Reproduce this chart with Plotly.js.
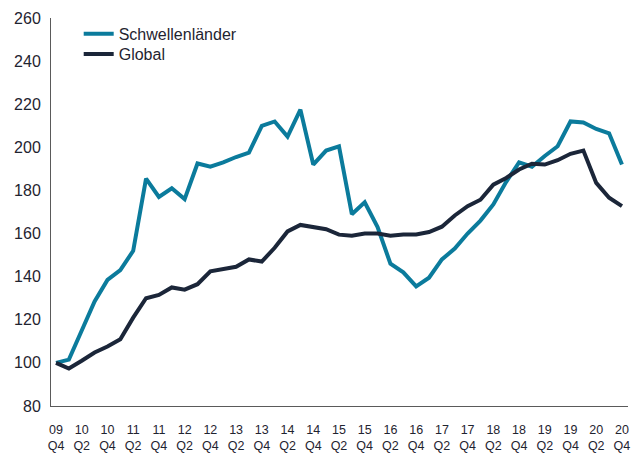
<!DOCTYPE html>
<html>
<head>
<meta charset="utf-8">
<script src="https://cdn.plot.ly/plotly-3.0.1.min.js"></script>
<style>html,body{margin:0;padding:0;background:#fff;}#chart{width:642px;height:455px;}</style>
</head>
<body>
<div id="chart"></div>
<script>
const quarters = ['09 Q4','10 Q1','10 Q2','10 Q3','10 Q4','11 Q1','11 Q2','11 Q3','11 Q4','12 Q1','12 Q2','12 Q3','12 Q4','13 Q1','13 Q2','13 Q3','13 Q4','14 Q1','14 Q2','14 Q3','14 Q4','15 Q1','15 Q2','15 Q3','15 Q4','16 Q1','16 Q2','16 Q3','16 Q4','17 Q1','17 Q2','17 Q3','17 Q4','18 Q1','18 Q2','18 Q3','18 Q4','19 Q1','19 Q2','19 Q3','19 Q4','20 Q1','20 Q2','20 Q3','20 Q4'];
const schwellen = [100,101.5,115,128.5,138.5,143,152,185.5,177,181,176,192.5,191,193,195.5,197.5,210,212,205,217.5,192,198.5,200.5,169,174.5,163,146,142,135.5,139.5,148,153,160,166,173.5,184,193,191,196,200.5,212,211.5,208.5,206.5,192];
const globalIdx = [100,97.4,101,104.8,107.6,111,121,130,131.5,135,134,136.5,142.5,143.4,144.6,148,147,153.4,161,164,163,162,159.5,159,160,160,159,159.6,159.6,160.7,163.2,168.4,172.7,175.7,182.7,185.8,189.7,192.4,192,194,197,198.5,183.5,176.6,172.7];
const yTicks = [80,100,120,140,160,180,200,220,240,260];
const tickQuarters = quarters.filter((q, i) => i % 2 === 0);
const yearLabels = tickQuarters.map(q => q.split(' ')[0]);
const qLabels = tickQuarters.map(q => q.split(' ')[1]);

const teal = '#0b7b9c';
const navy = '#1b2639';
const textColor = '#1f2430';
const font = 'Liberation Sans, Arial, sans-serif';

const traces = [
  {x: quarters, y: schwellen, name: 'Schwellenländer', type: 'scatter', mode: 'lines',
   xaxis: 'x', yaxis: 'y', legend: 'legend', line: {color: teal, width: 4}},
  {x: quarters, y: globalIdx, name: 'Global', type: 'scatter', mode: 'lines',
   xaxis: 'x2', yaxis: 'y', legend: 'legend2', line: {color: navy, width: 4}}
];

const xr = [-0.39, 44.47];
const legendStyle = (y) => ({x: 0.048, y: y, xanchor: 'left', yanchor: 'top',
           font: {family: font, size: 16, color: textColor},
           bgcolor: 'rgba(0,0,0,0)', borderwidth: 0});
const layout = {
  width: 642, height: 455,
  margin: {l: 51, r: 14, t: 18, b: 49},
  paper_bgcolor: '#fff', plot_bgcolor: '#fff',
  showlegend: true,
  legend: legendStyle(1.003),
  legend2: legendStyle(0.951),
  xaxis: {type: 'category', categoryorder: 'array', categoryarray: quarters,
          range: xr, showgrid: false, zeroline: false,
          showline: true, linecolor: '#5a5a5a', linewidth: 1,
          ticks: '', tickvals: tickQuarters, ticktext: yearLabels,
          ticklabelstandoff: 12,
          tickfont: {family: font, size: 12.5, color: textColor}},
  xaxis2: {type: 'category', overlaying: 'x', anchor: 'y', side: 'bottom',
           categoryorder: 'array', categoryarray: quarters,
           range: xr, showgrid: false, zeroline: false, showline: false,
           ticks: '', tickvals: tickQuarters, ticktext: qLabels,
           ticklabelstandoff: 30,
           tickfont: {family: font, size: 12.5, color: textColor}},
  yaxis: {range: [80, 260], tickvals: yTicks, showgrid: false, zeroline: false,
          showline: true, linecolor: '#5a5a5a', linewidth: 1, ticks: '',
          ticklabelstandoff: 6,
          tickfont: {family: font, size: 16, color: textColor}}
};

Plotly.newPlot('chart', traces, layout, {displayModeBar: false, staticPlot: true});
</script>
</body>
</html>
